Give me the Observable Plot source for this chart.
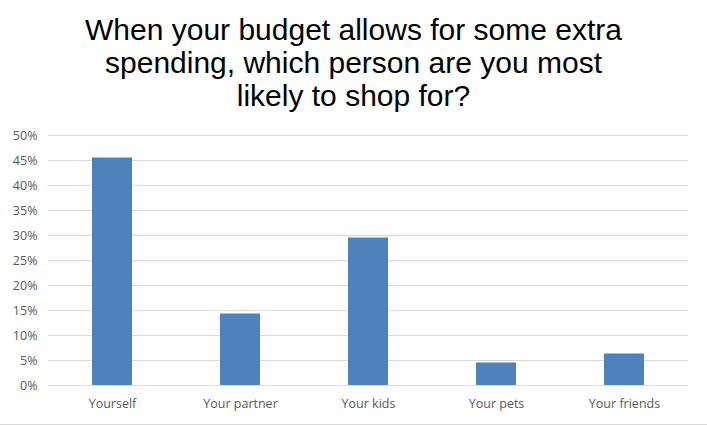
<!DOCTYPE html>
<html>
<head>
<meta charset="utf-8">
<script src="https://cdn.jsdelivr.net/npm/d3@7"></script>
<script src="https://cdn.jsdelivr.net/npm/@observablehq/plot@0.6"></script>
<style>
  body { margin: 0; background: #fff; }
  #wrap { width: 707px; height: 424px; border-bottom: 1px solid #d9d9d9; position: relative; overflow: hidden; }
  #title { font-family: "Liberation Sans", Arial, sans-serif; font-size: 30px; line-height: 33px; color: #000;
           text-align: center; padding-top: 13px; height: 107px; width: 707px; white-space: nowrap; }
  #chart svg { display: block; }
</style>
</head>
<body>
<div id="wrap">
  <div id="title">When your budget allows for some extra<br>spending, which person are you most<br>likely to shop for?</div>
  <div id="chart"></div>
</div>
<script>
const categories = ["Yourself", "Your partner", "Your kids", "Your pets", "Your friends"];
const values = [45.5, 14.3, 29.5, 4.5, 6.3];
const yTicks = [0, 5, 10, 15, 20, 25, 30, 35, 40, 45, 50];

const data = categories.map((c, i) => ({category: c, value: values[i] / 100}));

const chart = Plot.plot({
  width: 707,
  height: 304,
  marginTop: 15,
  marginBottom: 39,
  marginLeft: 48,
  marginRight: 19,
  style: {fontFamily: "'Open Sans', sans-serif", fontSize: "12.5px", color: "#595959", background: "#fff"},
  x: {domain: categories, paddingInner: 0.6875, paddingOuter: 0.34375, label: null},
  y: {domain: [0, 0.5], ticks: yTicks.map(t => t / 100), tickFormat: d => Math.round(d * 100) + "%", label: null},
  marks: [
    Plot.gridY(yTicks.map(t => t / 100), {stroke: "#d9d9d9", strokeOpacity: 1, strokeWidth: 1}),
    Plot.barY(data, {x: "category", y: "value", fill: "#4f81bd"}),
    Plot.axisY(yTicks.map(t => t / 100), {tickSize: 0, tickPadding: 11, tickFormat: d => Math.round(d * 100) + "%", fill: "#595959"}),
    Plot.axisX({tickSize: 0, tickPadding: 14, fill: "#595959"})
  ]
});
document.getElementById("chart").appendChild(chart);
</script>
</body>
</html>
